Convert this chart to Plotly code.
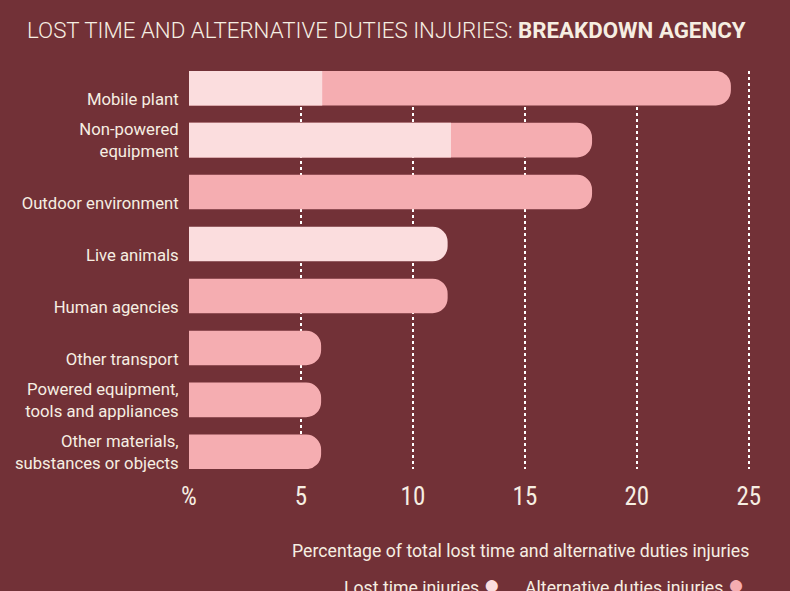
import plotly.graph_objects as go

# data (percent of total injuries)
categories = [
    "Mobile plant",
    "Non-powered equipment",
    "Outdoor environment",
    "Live animals",
    "Human agencies",
    "Other transport",
    "Powered equipment, tools and appliances",
    "Other materials, substances or objects",
]
# labels sit on the bar's bottom line, so single-line ones get an empty first line
category_labels = [
    " <br>Mobile plant",
    "Non-powered<br>equipment",
    " <br>Outdoor environment",
    " <br>Live animals",
    " <br>Human agencies",
    " <br>Other transport",
    "Powered equipment,<br>tools and appliances",
    "Other materials,<br>substances or objects",
]
alternative_duties = [24.2, 18.0, 18.0, 0, 11.55, 5.9, 5.9, 5.9]
lost_time = [5.95, 11.7, 0, 11.55, 0, 0, 0, 0]
tick_vals = [0, 5, 10, 15, 20, 25]
tick_text = ["%", "5", "10", "15", "20", "25"]

BG = "#723137"
LIGHT = "#FBDDDE"
DARK = "#F5ADB1"
TXT = "#F6EEE2"
FONT = "Roboto, sans-serif"
COND = "Roboto Condensed, Liberation Sans Narrow, Roboto, sans-serif"

fig = go.Figure()
fig.add_trace(go.Bar(
    y=categories, x=alternative_duties, orientation="h",
    marker=dict(color=DARK, cornerradius=15, line=dict(width=0)),
    width=0.665, name="Alternative duties injuries",
))
fig.add_trace(go.Bar(
    y=categories, x=lost_time, orientation="h",
    marker=dict(color=LIGHT, cornerradius=15, line=dict(width=0)),
    width=0.665, name="Lost time injuries",
))

fig.update_layout(
    width=790, height=591,
    barmode="overlay",
    paper_bgcolor=BG, plot_bgcolor=BG,
    showlegend=False,
    margin=dict(l=189, r=29.8, t=71.4, b=122.4),
    font=dict(family=FONT, color=TXT, size=17),
    title=dict(
        text="LOST TIME AND ALTERNATIVE DUTIES INJURIES: <b>BREAKDOWN AGENCY</b>",
        xref="container", x=27 / 790, xanchor="left",
        y=0.949, yanchor="middle",
        font=dict(family=FONT, size=22.3, color=TXT, weight=300),
    ),
)

fig.update_xaxes(
    range=[0, 25.5], automargin=False,
    tickvals=tick_vals, ticktext=tick_text,
    showgrid=True, gridcolor="white", gridwidth=2, griddash="dot",
    zeroline=True, zerolinecolor=BG, zerolinewidth=1,
    ticks="", ticklabelstandoff=10,
    tickfont=dict(family=COND, size=25, color=TXT),
    showline=False,
)
fig.update_yaxes(
    categoryorder="array", categoryarray=categories,
    tickvals=categories, ticktext=category_labels,
    range=[7.33, -0.33], automargin=False,
    showgrid=False, zeroline=False,
    ticks="outside", ticklen=6, tickcolor=BG,
    tickfont=dict(size=16.7, color=TXT),
)

fig.add_annotation(
    text="Percentage of total lost time and alternative duties injuries",
    xref="x", x=25.1, xanchor="right",
    yref="paper", y=-0.205, yanchor="middle",
    showarrow=False, font=dict(size=17.7, color=TXT),
)
fig.add_annotation(
    text="Lost time injuries <span style='color:%s;font-size:28px'>●</span>" % LIGHT,
    xref="x", x=14.0, xanchor="right",
    yref="paper", y=-0.29, yanchor="middle",
    showarrow=False, font=dict(size=17.7, color=TXT),
)
fig.add_annotation(
    text="Alternative duties injuries <span style='color:%s;font-size:28px'>●</span>" % DARK,
    xref="x", x=24.9, xanchor="right",
    yref="paper", y=-0.29, yanchor="middle",
    showarrow=False, font=dict(size=17.7, color=TXT),
)

fig.write_html("out.html", config={"displayModeBar": False},
               post_script="document.body.style.margin='0';")
